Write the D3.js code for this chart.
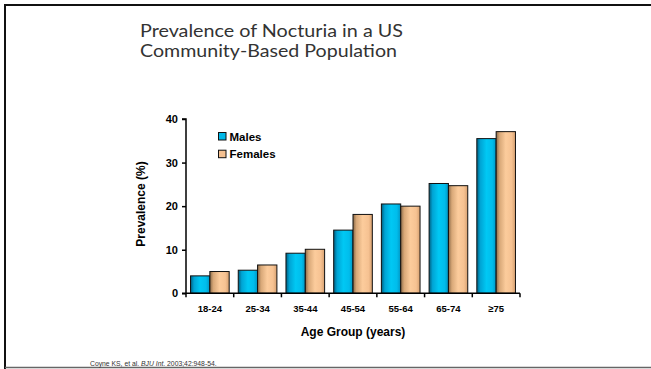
<!DOCTYPE html>
<html>
<head>
<meta charset="utf-8">
<script src="https://cdn.jsdelivr.net/npm/d3@7"></script>
<style>
  html, body { margin: 0; padding: 0; background: #fff; }
  svg { display: block; }
</style>
</head>
<body>
<svg id="chart" width="651" height="369"></svg>
<script>
const categories = ["18-24", "25-34", "35-44", "45-54", "55-64", "65-74", "\u226575"];
const series = ["Males", "Females"];
const males   = [4.0, 5.3, 9.2, 14.5, 20.5, 25.2, 35.5];
const females = [5.0, 6.5, 10.1, 18.1, 20.0, 24.7, 37.1];
const yTicks = [0, 10, 20, 30, 40];
const titleLines = ["Prevalence of Nocturia in a US", "Community-Based Population"];
const yTitle = "Prevalence (%)";
const xTitle = "Age Group (years)";

const W = 651, H = 369;
const svg = d3.select("#chart");

// gradients
const defs = svg.append("defs");
function grad(id, stops) {
  const g = defs.append("linearGradient").attr("id", id)
    .attr("x1", "0%").attr("x2", "100%").attr("y1", "0%").attr("y2", "0%");
  stops.forEach(s => g.append("stop").attr("offset", s[0]).attr("stop-color", s[1]));
}
grad("gM", [["0%", "#005f80"], ["18%", "#00a4d4"], ["50%", "#00c8f4"], ["80%", "#00bdec"], ["100%", "#0096c4"]]);
grad("gF", [["0%", "#8a6a48"], ["18%", "#d8a878"], ["50%", "#fccc9c"], ["80%", "#f6c292"], ["100%", "#d6a070"]]);
const fills = { Males: "url(#gM)", Females: "url(#gF)" };
const legendFills = { Males: "#00b8e8", Females: "#f4c090" };

// slide frame
svg.append("line").attr("x1", 5).attr("x2", W).attr("y1", 5).attr("y2", 5)
  .attr("stroke", "#111").attr("stroke-width", 2);
svg.append("line").attr("x1", 5).attr("x2", 5).attr("y1", 4).attr("y2", H)
  .attr("stroke", "#111").attr("stroke-width", 2);
svg.append("line").attr("x1", 5).attr("x2", W).attr("y1", 367.5).attr("y2", 367.5)
  .attr("stroke", "#666").attr("stroke-width", 1.5);

// title
const titleFont = "Lato, 'Open Sans', sans-serif";
const titleLayout = [{ y: 36.6, w: 263 }, { y: 56.9, w: 257 }];
svg.append("g").selectAll("text").data(titleLines).join("text")
  .attr("x", 140).attr("y", (d, i) => titleLayout[i].y)
  .attr("font-family", titleFont).attr("font-size", 16.6).attr("fill", "#333")
  .attr("textLength", (d, i) => titleLayout[i].w).attr("lengthAdjust", "spacingAndGlyphs")
  .text(d => d);

// scales
const x0 = d3.scaleBand().domain(categories).range([186, 520]).paddingInner(0.19).paddingOuter(0.095);
const x1 = d3.scaleBand().domain(series).range([0, x0.bandwidth()]);
const y = d3.scaleLinear().domain([0, 40]).range([293.3, 119]);

const data = categories.map((c, i) => ({ cat: c, Males: males[i], Females: females[i] }));

// bars
const groups = svg.append("g").selectAll("g").data(data).join("g")
  .attr("transform", d => `translate(${x0(d.cat)},0)`);
groups.selectAll("rect").data(d => series.map(s => ({ s, v: d[s] }))).join("rect")
  .attr("x", d => x1(d.s))
  .attr("y", d => y(d.v))
  .attr("width", x1.bandwidth())
  .attr("height", d => y(0) - y(d.v))
  .attr("fill", d => fills[d.s])
  .attr("stroke", "#111")
  .attr("stroke-width", 1);

// y axis
const font = "Arial, 'Liberation Sans', sans-serif";
const yAxis = d3.axisLeft(y).tickValues(yTicks).tickSize(4).tickPadding(4).tickFormat(d3.format("d"));
const gy = svg.append("g").attr("transform", "translate(186,0)").call(yAxis);
gy.select(".domain").attr("stroke", "#000").attr("stroke-width", 1.5).attr("d", `M-4,${y(40)}H0V${y(0)}H-4`);
gy.selectAll(".tick line").attr("stroke", "#000").attr("stroke-width", 1.5);
gy.selectAll(".tick text").attr("font-family", font).attr("font-size", 11)
  .attr("font-weight", "bold").attr("fill", "#000");

// x axis with ticks at category boundaries
const step = x0.step();
const bounds = categories.map(c => x0(c) - step * x0.paddingInner() / 2);
bounds.push(520);
svg.append("line").attr("x1", 186).attr("x2", 520).attr("y1", y(0)).attr("y2", y(0))
  .attr("stroke", "#000").attr("stroke-width", 1.5);
svg.append("g").selectAll("line").data(bounds).join("line")
  .attr("x1", d => d).attr("x2", d => d).attr("y1", y(0)).attr("y2", y(0) + 4)
  .attr("stroke", "#000").attr("stroke-width", 1.5);
svg.append("g").selectAll("text").data(categories).join("text")
  .attr("x", d => x0(d) + x0.bandwidth() / 2).attr("y", 311.5)
  .attr("text-anchor", "middle").attr("font-family", font).attr("font-size", 9.5)
  .attr("font-weight", "bold").attr("fill", "#000").text(d => d);

// axis titles
svg.append("text").attr("x", 353).attr("y", 335.7).attr("text-anchor", "middle")
  .attr("font-family", font).attr("font-size", 12).attr("font-weight", "bold").attr("fill", "#000").text(xTitle);
svg.append("text").attr("transform", "translate(144.5,204) rotate(-90)").attr("text-anchor", "middle")
  .attr("font-family", font).attr("font-size", 12).attr("font-weight", "bold").attr("fill", "#000").text(yTitle);

// legend
const lg = svg.append("g").selectAll("g").data(series).join("g")
  .attr("transform", (d, i) => `translate(218.5,${132.5 + i * 17.7})`);
lg.append("rect").attr("width", 7.5).attr("height", 7.5)
  .attr("fill", d => legendFills[d]).attr("stroke", "#111").attr("stroke-width", 1);
lg.append("text").attr("x", 11).attr("y", 8.2)
  .attr("font-family", font).attr("font-size", 11.5).attr("font-weight", "bold").attr("fill", "#000").text(d => d);

// citation
const cit = svg.append("text").attr("x", 90).attr("y", 366).attr("font-family", font)
  .attr("font-size", 6.8).attr("fill", "#333");
cit.append("tspan").text("Coyne KS, et al. ");
cit.append("tspan").attr("font-style", "italic").text("BJU Int");
cit.append("tspan").text(". 2003;42:948-54.");
</script>
</body>
</html>
